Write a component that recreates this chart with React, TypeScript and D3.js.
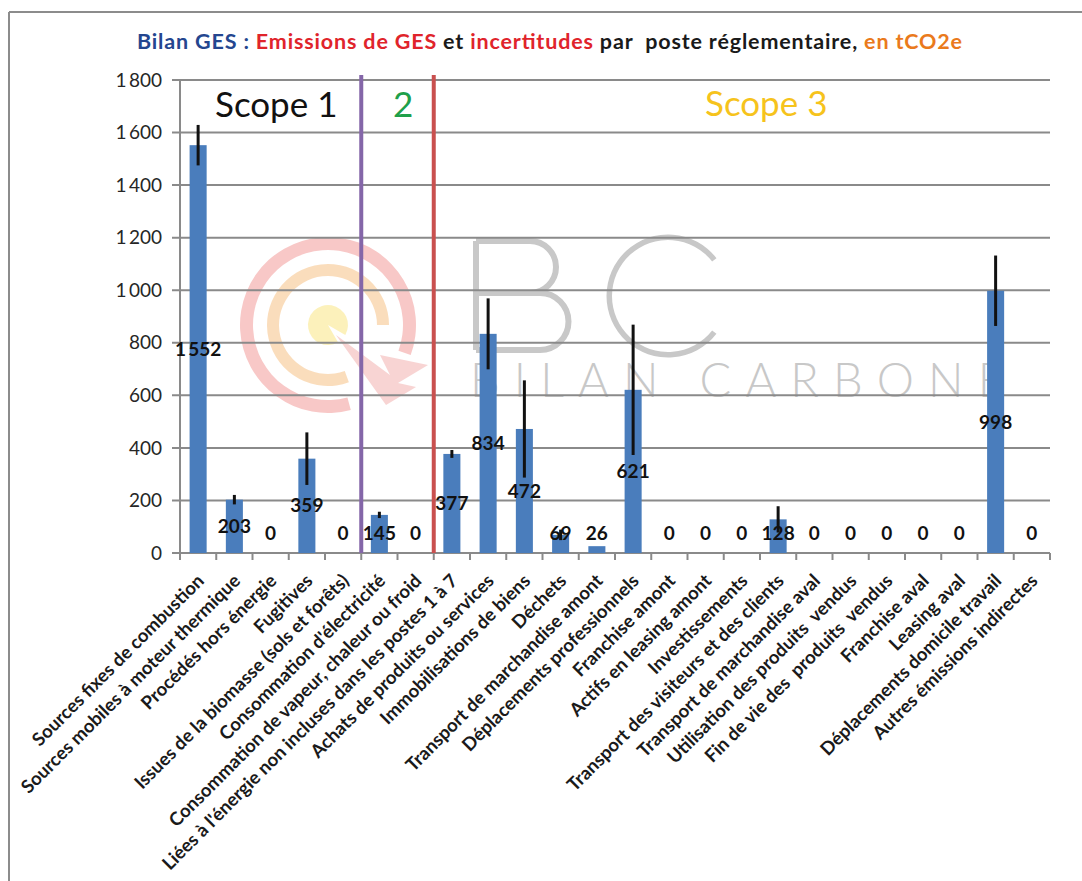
import React from "react";
import * as d3 from "d3";

const categories = [
  "Sources fixes de combustion",
  "Sources mobiles à moteur thermique",
  "Procédés hors énergie",
  "Fugitives",
  "Issues de la biomasse (sols et forêts)",
  "Consommation d'électricité",
  "Consommation de vapeur, chaleur ou froid",
  "Liées à l'énergie non incluses dans les postes 1 à 7",
  "Achats de produits ou services",
  "Immobilisations de biens",
  "Déchets",
  "Transport de marchandise amont",
  "Déplacements professionnels",
  "Franchise amont",
  "Actifs en leasing amont",
  "Investissements",
  "Transport des visiteurs et des clients",
  "Transport de marchandise aval",
  "Utilisation des produits  vendus",
  "Fin de vie des  produits  vendus",
  "Franchise aval",
  "Leasing aval",
  "Déplacements domicile travail",
  "Autres émissions indirectes",
];

const emissions = [1552, 203, 0, 359, 0, 145, 0, 377, 834, 472, 69, 26, 621, 0, 0, 0, 128, 0, 0, 0, 0, 0, 998, 0];
const uncertainties = [77, 18, 0, 100, 0, 12, 0, 15, 135, 185, 20, 0, 248, 0, 0, 0, 50, 0, 0, 0, 0, 0, 134, 0];
const yTicks = [0, 200, 400, 600, 800, 1000, 1200, 1400, 1600, 1800];

const titleParts = [
  { text: "Bilan GES : ", color: "#24468f" },
  { text: "Emissions de GES ", color: "#e0242b" },
  { text: "et ", color: "#1a1a1a" },
  { text: "incertitudes ", color: "#e0242b" },
  { text: "par  poste réglementaire, ", color: "#1a1a1a" },
  { text: "en tCO2e", color: "#ea7a1c" },
];

const scopeDividers = [
  { after: 5, color: "#8466a8" },
  { after: 7, color: "#c9504f" },
];

const W = 1082;
const H = 881;
const left = 180;
const right = 1050;
const top = 80;
const bottom = 553;

const locale = d3.formatLocale({ decimal: ",", thousands: "\u2009", grouping: [3], currency: ["", "€"] });
const fmt = locale.format(",d");
const deg = Math.PI / 180;

export default function App() {
  const x = d3.scaleBand<string>().domain(categories).range([left, right]).padding(0);
  const y = d3.scaleLinear().domain([0, 1800]).range([bottom, top]);
  const bw = x.bandwidth();
  const barW = bw * 0.47;
  const font = "Lato, 'Open Sans', sans-serif";

  const boundaries = d3.range(categories.length + 1).map((i) => left + i * bw);

  // logo arcs
  const cx = 328, cy = 325;
  const arc = d3.arc();
  const redRing = arc({ innerRadius: 75, outerRadius: 88, startAngle: 165 * deg, endAngle: 470 * deg } as any) || "";
  const orangeRing = arc({ innerRadius: 49, outerRadius: 61, startAngle: 160 * deg, endAngle: 450 * deg } as any) || "";
  const yellowDot = arc({ innerRadius: 0, outerRadius: 20, startAngle: 150 * deg, endAngle: 480 * deg } as any) || "";
  const cArc = arc({ innerRadius: 56, outerRadius: 61.5, startAngle: 128 * deg, endAngle: 412 * deg } as any) || "";

  return (
    <svg width={W} height={H} style={{ position: "absolute", left: 0, top: 0, background: "#fff" }}>
      <rect x={0} y={0} width={W} height={H} fill="#fff" />
      {/* frame */}
      <line x1={9} y1={12} x2={9} y2={H} stroke="#8c8c8c" strokeWidth={2} />
      <line x1={9} y1={12} x2={W} y2={12} stroke="#8c8c8c" strokeWidth={2} />

      {/* title */}
      <text x={137} y={49} fontFamily={font} fontWeight={700} fontSize={21.5} textLength={825} lengthAdjust="spacing">
        {titleParts.map((p, i) => (
          <tspan key={i} fill={p.color} style={{ whiteSpace: "pre" }}>
            {p.text}
          </tspan>
        ))}
      </text>

      {/* watermark */}
      <g opacity={0.42}>
        <path d={redRing} transform={`translate(${cx},${cy})`} fill="#ef7d7b" />
        <path d={orangeRing} transform={`translate(${cx},${cy})`} fill="#f5b062" />
        <path d={yellowDot} transform={`translate(${cx},${cy})`} fill="#f8e060" />
        <path d={`M${cx + 8},${cy + 10} L${cx + 62},${cy + 50} L${cx + 52},${cy + 30} L${cx + 100},${cy + 40} L${cx + 70},${cy + 58} L${cx + 88},${cy + 62} L${cx + 58},${cy + 80} Z`} fill="#ef9a98" />
      </g>
      <g stroke="#c8c8c8" strokeWidth={6} fill="none">
        <path d={`M476,241 L476,350 M476,241 L530,241 A26,26 0 0 1 530,293 L476,293 M476,293 L540,293 A28.5,28.5 0 0 1 540,350 L476,350`} />
      </g>
      <path d={cArc} transform="translate(668,296)" fill="#c8c8c8" />
      <text x={470} y={397} fontFamily="Lato, sans-serif" fontWeight={300} fontSize={47} fill="#c8c8c8" textLength={535} lengthAdjust="spacing">
        BILAN CARBONE
      </text>

      {/* gridlines */}
      {yTicks.map((t) => (
        <g key={t}>
          <line x1={left - 8} x2={right} y1={y(t)} y2={y(t)} stroke="#8a8a8a" strokeWidth={2} />
          <text x={162} y={y(t)} dy="0.35em" textAnchor="end" fontFamily={font} fontSize={19} fill="#262626">
            {fmt(t)}
          </text>
        </g>
      ))}
      <line x1={left} x2={left} y1={top} y2={bottom} stroke="#8a8a8a" strokeWidth={2} />
      {boundaries.map((b, i) => (
        <line key={i} x1={b} x2={b} y1={bottom} y2={bottom + 7} stroke="#8a8a8a" strokeWidth={2} />
      ))}

      {/* bars */}
      {emissions.map((v, i) => {
        const c = x(categories[i])! + bw / 2;
        return v > 0 ? (
          <rect key={i} x={c - barW / 2} y={y(v)} width={barW} height={bottom - y(v)} fill="#4a7dbc" />
        ) : null;
      })}

      {/* error bars */}
      {emissions.map((v, i) => {
        const e = uncertainties[i];
        if (!e) return null;
        const c = x(categories[i])! + bw / 2;
        return <line key={i} x1={c} x2={c} y1={y(v + e)} y2={y(Math.max(0, v - e))} stroke="#111" strokeWidth={3} />;
      })}

      {/* scope dividers */}
      {scopeDividers.map((d) => (
        <line key={d.after} x1={left + d.after * bw} x2={left + d.after * bw} y1={75} y2={bottom} stroke={d.color} strokeWidth={4} />
      ))}

      {/* scope labels */}
      <text x={215} y={117} fontFamily={font} fontSize={35} fill="#111">Scope 1</text>
      <text x={393} y={117} fontFamily={font} fontSize={35} fill="#1fa04a">2</text>
      <text x={705} y={116} fontFamily={font} fontSize={35} fill="#f6c31c">Scope 3</text>

      {/* value labels */}
      {emissions.map((v, i) => {
        const c = x(categories[i])! + bw / 2;
        const ly = Math.min(y(v / 2), 533);
        return (
          <text key={i} x={c} y={ly} dy="0.35em" textAnchor="middle" fontFamily={font} fontWeight={700} fontSize={19} fill="#111">
            {fmt(v)}
          </text>
        );
      })}

      {/* x labels */}
      {categories.map((cat, i) => {
        const px = x(cat)! + bw / 2 + 7;
        const py = 582;
        return (
          <text key={i} x={px} y={py} textAnchor="end" transform={`rotate(-45,${px},${py})`} fontFamily={font} fontWeight={700} fontSize={18.5} fill="#1a1a1a" style={{ whiteSpace: "pre" }}>
            {cat}
          </text>
        );
      })}
    </svg>
  );
}
